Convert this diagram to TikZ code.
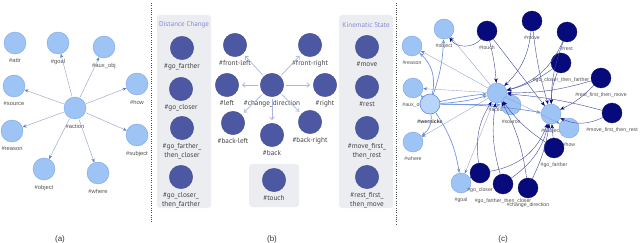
\documentclass[tikz,border=0pt]{standalone}
\usepackage{fontspec}
\setmainfont{Liberation Sans}
\newfontfamily\ptsans{PT Sans}
\usepackage{xcolor}
\usetikzlibrary{arrows.meta,positioning,backgrounds}
\definecolor{rolefill}{RGB}{158,196,246}
\definecolor{roleline}{RGB}{125,165,228}
\definecolor{wernfill}{RGB}{184,212,249}
\definecolor{wernline}{RGB}{100,140,215}
\definecolor{valfill}{RGB}{76,88,162}
\definecolor{navyfill}{RGB}{6,10,122}
\definecolor{boxgray}{RGB}{236,237,241}
\definecolor{titleblue}{RGB}{132,138,212}
\definecolor{cdarrow}{RGB}{168,180,228}
\definecolor{aline}{RGB}{145,158,200}
\definecolor{atip}{RGB}{92,126,200}
\definecolor{vline}{RGB}{62,74,150}
\definecolor{labgray}{RGB}{80,80,80}

\begin{document}
\begin{tikzpicture}[x=1pt, y=-1pt, font=\ptsans,
  rolenode/.style={circle, fill=rolefill, draw=roleline, line width=0.4pt, minimum size=22pt, inner sep=0pt},
  bnode/.style={circle, fill=valfill, draw=valfill!85!black, line width=0.3pt, minimum size=23.5pt, inner sep=0pt},
  cnode/.style={circle, fill=rolefill, draw=roleline, line width=0.4pt, minimum size=20pt, inner sep=0pt},
  cval/.style={circle, fill=navyfill, draw=navyfill!80!black, line width=0.3pt, minimum size=20pt, inner sep=0pt},
  alab/.style={font=\rmfamily\fontsize{5.8}{6.5}\selectfont, text=labgray, inner sep=1pt, label distance=3.6pt},
  blab/.style={font=\ptsans\fontsize{7.2}{9.6}\selectfont, text=labgray!85!black, inner sep=1pt, label distance=2pt, align=center},
  clab/.style={font=\rmfamily\fontsize{5.2}{5.7}\selectfont, text=labgray, inner sep=1pt, label distance=3.8pt},
  aedge/.style={draw=aline, line width=0.4pt, -{Stealth[length=4pt, width=3.2pt, color=atip]}, shorten <=1pt},
  bedge/.style={draw=cdarrow, line width=0.7pt, -{Straight Barb[length=2.6pt, width=4.5pt]}, shorten <=2pt, shorten >=3pt},
  wedge/.style={draw=wernline!90, line width=0.7pt, -{Stealth[length=4.5pt, width=3.5pt]}},
  thinedge/.style={draw=aline, line width=0.35pt, -{Stealth[length=4pt, width=3pt, color=atip]}},
  vedge/.style={draw=vline, line width=0.4pt, -{Stealth[length=4.5pt, width=3.5pt, color=navyfill]}},
  caption/.style={font=\rmfamily\fontsize{8}{9}\selectfont, text=black!80},
  boxtitle/.style={font=\ptsans\fontsize{7}{8}\selectfont, text=titleblue}]

\useasboundingbox (0,0) rectangle (640,243);

% 1. Dividers
\draw[gray!60!black, line width=0.6pt, dash pattern=on 0.7pt off 1.6pt] (151,3) -- (151,222);
\draw[gray!60!black, line width=0.6pt, dash pattern=on 0.7pt off 1.6pt] (396,3) -- (396,224);

% 2. Panel (a): role schema
\node[rolenode, label={[alab]below:\#attr}] (aattr) at (15,43) {};
\node[rolenode, label={[alab]below:\#goal}] (agoal) at (58,43) {};
\node[rolenode, label={[alab]below:\#aux\_obj}] (aaux) at (104,47) {};
\node[rolenode, label={[alab]below:\#source}] (asrc) at (14,86) {};
\node[rolenode, label={[alab]below:\#how}] (ahow) at (137,84) {};
\node[rolenode, label={[alab]below:\#action}] (aact) at (75,108) {};
\node[rolenode, label={[alab]below:\#reason}] (areason) at (12,131) {};
\node[rolenode, label={[alab]below:\#subject}] (asubj) at (137,135) {};
\node[rolenode, label={[alab]below:\#object}] (aobj) at (44,169) {};
\node[rolenode, label={[alab]below:\#where}] (awhere) at (98,173) {};

\draw[aedge] (aact) -- (agoal);
\draw[aedge] (aact) -- (aaux);
\draw[aedge] (aact) -- (ahow);
\draw[aedge] (aact) -- (asubj);
\draw[aedge] (aact) -- (awhere);
\draw[aedge] (aact) -- (aobj);
\draw[aedge] (aact) -- (areason);
\draw[aedge] (aact) -- (asrc);

\node[caption] (capa) at (60,239) {(a)};

% 3. Panel (b): value groups
\fill[boxgray, rounded corners=3pt] (157,15) rectangle (211,208);
\fill[boxgray, rounded corners=3pt] (339,15) rectangle (393,208);
\fill[boxgray, rounded corners=3pt] (249,164) rectangle (299,207);
\node[boxtitle] (disttitle) at (184,25) {Distance Change};
\node[boxtitle] (kintitle) at (366,25) {Kinematic State};

\node[bnode, label={[blab]below:\#go\_farther}] (bfar) at (182,48) {};
\node[bnode, label={[blab]below:\#go\_closer}] (bclose) at (181,89) {};
\node[bnode, label={[blab]below:\#go\_farther\_\\then\_closer}] (bfarclose) at (182,128) {};
\node[bnode, label={[blab]below:\#go\_closer\_\\then\_farther}] (bclosefar) at (181,177) {};

\node[bnode, label={[blab]below:\#front-left}] (bfl) at (235,45) {};
\node[bnode, label={[blab]below:\#front-right}] (bfr) at (310,45) {};
\node[bnode, label={[blab]below:\#left}] (bleft) at (227,85) {};
\node[bnode, label={[blab]below:\#change\_direction}] (bcd) at (272,85) {};
\node[bnode, label={[blab]below:\#right}] (bright) at (325,85) {};
\node[bnode, label={[blab]below:\#back-left}] (bbl) at (233,123) {};
\node[bnode, label={[blab]below:\#back}] (bback) at (272,135) {};
\node[bnode, label={[blab]below:\#back-right}] (bbr) at (310,122) {};
\node[bnode, label={[blab]below:\#touch}] (btouch) at (274,180) {};

\node[bnode, label={[blab]below:\#move}] (bmove) at (367,47) {};
\node[bnode, label={[blab]below:\#rest}] (brest) at (367,87) {};
\node[bnode, label={[blab]below:\#move\_first\_\\then\_rest}] (bmoverest) at (367,128) {};
\node[bnode, label={[blab]below:\#rest\_first\_\\then\_move}] (brestmove) at (367,177) {};

\draw[bedge] (bcd) -- (bfl);
\draw[bedge] (bcd) -- (bfr);
\draw[bedge] (bcd) -- (bleft);
\draw[bedge] (bcd) -- (bright);
\draw[bedge] (bcd) -- (bbl);
\draw[bedge] (bcd) -- (bback);
\draw[bedge] (bcd) -- (bbr);

\node[caption] (capb) at (272,239) {(b)};

% 4. Panel (c): instance graph
\node[cnode, label={[clab]below:\#object}] (cobj) at (444,29) {};
\node[cnode, label={[clab]below:\#reason}] (creason) at (412,46) {};
\node[cnode, label={[clab]below:\#aux\_obj}] (caux) at (413,88) {};
\node[cnode, label={[clab]below:\#where}] (cwhere) at (413,142) {};
\node[cnode, label={[clab]below:\#goal}] (cgoal) at (461,183) {};
\node[cnode, label={[clab]below:\#action}] (cact) at (497,93) {};
\node[cnode, label={[clab]below:\#source}] (csrc) at (511,105) {};
\node[cnode, label={[clab]below:\#subject}] (csubj) at (551,114) {};
\node[cnode, label={[clab]below:\#how}] (chow) at (569,128) {};
\node[cnode, fill=wernfill, draw=wernline, line width=0.6pt,
      label={[clab, font=\rmfamily\bfseries\fontsize{5.2}{5.7}\selectfont, text=black!75]below:\#wernicke}] (cwern) at (430,104) {};

\node[cval, label={[clab]below:\#touch}] (ctouch) at (487,31) {};
\node[cval, label={[clab]below:\#move}] (cmove) at (532,21) {};
\node[cval, label={[clab]below:\#rest}] (crest) at (567,32) {};
\node[cval, label={[clab]below:\#go\_closer\_then\_farther}] (cclosefar) at (561,63) {};
\node[cval, label={[clab]below:\#rest\_first\_then\_move}] (crestmove) at (601,78) {};
\node[cval, label={[clab]below:\#move\_first\_then\_rest}] (cmoverest) at (612,113) {};
\node[cval, label={[clab]below:\#go\_farther}] (cfar) at (554,148) {};
\node[cval, label={[clab]below:\#go\_closer}] (cclose) at (480,173) {};
\node[cval, label={[clab]below:\#go\_farther\_then\_closer}] (cfarclose) at (503,184) {};
\node[cval, label={[clab]below:\#change\_direction}] (ccd) at (528,188) {};

% action to its roles
\draw[thinedge] (cact) -- (cobj);
\draw[thinedge] (cact) -- (creason);
\draw[thinedge] (cact) -- (caux);
\draw[thinedge] (cact) -- (cwhere);
\draw[thinedge] (cact) -- (cgoal);
\draw[thinedge] (cact) -- (chow);

% wernicke to its roles
\draw[wedge] (cwern) to[bend right=8] (cobj);
\draw[wedge] (cwern) to[bend right=30] (creason);
\draw[wedge] (cwern) -- (caux);
\draw[wedge] (cwern) to[bend left=30] (cwhere);
\draw[wedge] (cwern) to[bend left=12] (cgoal);
\draw[wedge] (cwern) to[bend right=6] (cact);
\draw[wedge] (cwern) to[bend left=4] (cact);
\draw[wedge] (cwern) -- (csrc);
\draw[wedge] (cwern) to[bend left=4] (csubj);

% values to action and subject
\draw[vedge] (ctouch) to[bend left=55] (cobj);
\draw[vedge] (ctouch) to[bend left=5] (cact);
\draw[vedge] (ctouch) -- (csubj);
\draw[vedge] (cmove) to[bend left=20] (cact);
\draw[vedge] (cmove) to[bend right=5] (csubj);
\draw[vedge] (crest) to[bend left=25] (cact);
\draw[vedge] (crest) to[bend right=10] (csubj);
\draw[vedge] (cclosefar) to[bend left=10] (cact);
\draw[vedge] (cclosefar) to[bend right=10] (csubj);
\draw[vedge] (crestmove) to[bend left=8] (cact);
\draw[vedge] (crestmove) to[bend left=10] (csubj);
\draw[vedge] (cmoverest) to[bend left=25] (csubj);
\draw[vedge] (cmoverest) to[bend right=5] (cact);
\draw[vedge] (cfar) to[bend left=10] (cact);
\draw[vedge] (cfar) -- (csubj);
\draw[vedge] (cclose) to[bend left=20] (cact);
\draw[vedge] (cclose) to[bend right=30] (csubj);
\draw[vedge] (cclose) -- (cgoal);
\draw[vedge] (cfarclose) to[bend left=12] (cact);
\draw[vedge] (cfarclose) to[bend right=20] (csubj);
\draw[vedge] (ccd) to[bend right=10] (cact);
\draw[vedge] (ccd) to[bend right=8] (csubj);

\node[caption] (capc) at (503,239) {(c)};

\end{tikzpicture}
\end{document}
